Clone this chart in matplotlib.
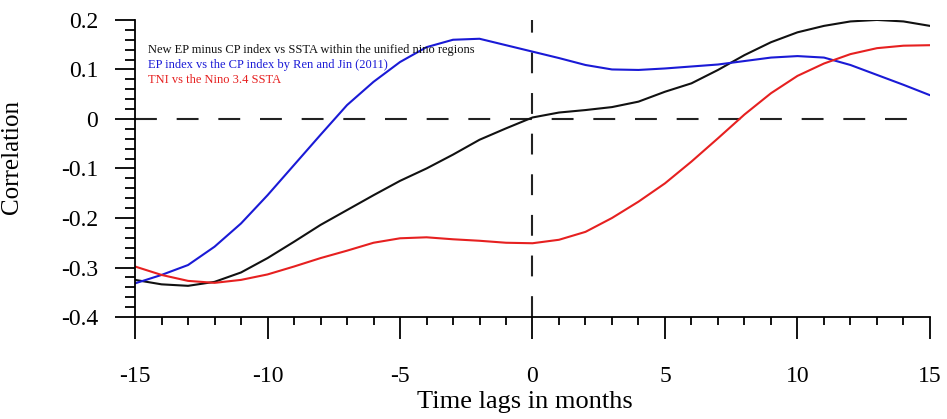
import matplotlib
matplotlib.use("Agg")
import matplotlib.pyplot as plt
from matplotlib.ticker import MultipleLocator

plt.rcParams['font.family'] = ['Liberation Serif', 'DejaVu Serif']

lags = list(range(-15, 16))

new_ep_cp = [-0.325, -0.334, -0.337, -0.329, -0.310, -0.281, -0.248, -0.214,
             -0.184, -0.154, -0.125, -0.100, -0.072, -0.042, -0.019, 0.003,
             0.013, 0.018, 0.024, 0.035, 0.055, 0.072, 0.099, 0.129,
             0.155, 0.175, 0.188, 0.197, 0.200, 0.197, 0.188]

ren_jin = [-0.332, -0.315, -0.295, -0.258, -0.211, -0.154, -0.093, -0.032,
           0.028, 0.075, 0.115, 0.145, 0.160, 0.162, 0.149, 0.136,
           0.123, 0.109, 0.100, 0.099, 0.102, 0.106, 0.110, 0.117,
           0.124, 0.127, 0.124, 0.109, 0.089, 0.069, 0.048]

tni = [-0.298, -0.315, -0.327, -0.331, -0.325, -0.314, -0.298, -0.281,
       -0.266, -0.250, -0.241, -0.239, -0.243, -0.246, -0.250, -0.251,
       -0.244, -0.228, -0.200, -0.167, -0.130, -0.086, -0.039, 0.009,
       0.052, 0.087, 0.112, 0.131, 0.143, 0.148, 0.149]

labels = ["New EP minus CP index vs SSTA within the unified nino regions",
          "EP index vs the CP index by Ren and Jin (2011)",
          "TNI vs the Nino 3.4 SSTA"]
colors = ["#111111", "#1a1ad6", "#e62020"]

fig = plt.figure(figsize=(9.47, 4.19), dpi=100)
ax = fig.add_axes([0.1426, 0.2434, 0.8394, 0.7090])

ax.axhline(0, color="#222222", lw=1.5, dashes=(10.5, 9.5), xmax=0.985)
ax.axvline(0, color="#222222", lw=1.5, dashes=(10, 9.5))

for ser, c in zip([new_ep_cp, ren_jin, tni], colors):
    ax.plot(lags, ser, color=c, lw=1.5, solid_capstyle="round",
            solid_joinstyle="round")

ax.set_xlim(-15, 15)
ax.set_ylim(-0.4, 0.2)
ax.spines['top'].set_visible(False)
ax.spines['right'].set_visible(False)
ax.spines['left'].set_linewidth(1.3)
ax.spines['bottom'].set_linewidth(1.3)

ax.xaxis.set_minor_locator(MultipleLocator(1))
ax.yaxis.set_minor_locator(MultipleLocator(0.02))

ax.tick_params(axis='x', which='major', direction='out', length=16, width=1.3,
               labelsize=17, pad=19)
ax.tick_params(axis='x', which='minor', direction='out', length=6, width=1.3)
ax.tick_params(axis='y', which='major', direction='out', length=14.5, width=1.3,
               labelsize=17, pad=12)
ax.tick_params(axis='y', which='minor', direction='out', length=7.2, width=1.3)

ax.set_yticks([-0.4, -0.3, -0.2, -0.1, 0, 0.1, 0.2])
ax.set_yticklabels(["-0.4", "-0.3", "-0.2", "-0.1", "0", "0.1", "0.2"])
ax.set_xticks([-15, -10, -5, 0, 5, 10, 15])
ax.set_xticklabels(["-15", "-10", "-5", "0", "5", "10", "15"])

ax.set_xlabel("Time lags in months", fontsize=19, va="center")
ax.xaxis.set_label_coords(0.49, -0.285)
ax.set_ylabel("Correlation", fontsize=18)
ax.yaxis.set_label_coords(-0.141, 0.54)

for i, (t, c) in enumerate(zip(labels, colors)):
    fig.text(148 / 947, 1 - (50 + 15 * i) / 419, t, color=c, fontsize=9,
             va="center", ha="left")

fig.savefig("out.png", dpi=100)
